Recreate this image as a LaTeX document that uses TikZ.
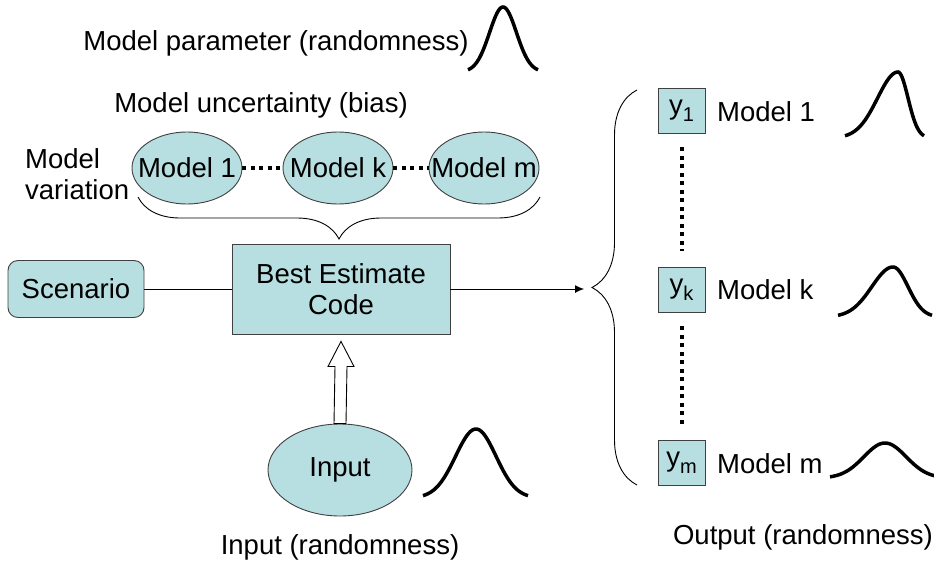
\documentclass[tikz,border=0pt]{standalone}
\usepackage{fontspec}
\setmainfont{Liberation Sans}
\usetikzlibrary{shapes.geometric,calc,decorations.pathreplacing,arrows.meta}
\definecolor{cellfill}{RGB}{183,222,224}
\definecolor{celledge}{RGB}{64,64,64}
\newcommand{\ysub}[1]{y\raisebox{-0.45ex}{\fontsize{20}{20}\selectfont #1}}
\newcommand{\bellcurve}[5]{%
	\draw[bell] plot[domain=#1:#2,samples=30] (\x,{#4-(#4-#5)*exp(-((\x-#2)*(\x-#2))/(2*((#2-#1)/2.6)*((#2-#1)/2.6)))})
		-- plot[domain=#2:#3,samples=30] (\x,{#4-(#4-#5)*exp(-((\x-#2)*(\x-#2))/(2*((#3-#2)/2.6)*((#3-#2)/2.6)))});}

\begin{document}
\begin{tikzpicture}[x=1pt,y=-1pt,
	every node/.style={font=\fontsize{27.5}{31}\selectfont},
	box/.style={draw=celledge, fill=cellfill, line width=0.9pt},
	modelell/.style={ellipse, box, inner sep=0pt, minimum width=110pt, minimum height=72pt},
	ybox/.style={box, inner sep=0pt, minimum width=47pt, minimum height=45pt},
	bell/.style={line width=3.5pt},
	dots/.style={line width=4pt, dash pattern=on 4pt off 4.5pt},
	link/.style={line width=0.9pt},
	brc/.style={decorate, decoration={brace, amplitude=#1}, line width=0.9pt}]
	
		\useasboundingbox (0,0) rectangle (934,567);
		
		\node (param) at (276,43) {Model parameter (randomness)};
		\bellcurve{468}{503}{538}{72}{7}
		\node (bias) at (261,105) {Model uncertainty (bias)};
		\node[align=left, anchor=west, inner sep=0pt] (var) at (25,174) {Model\\variation};
		
		\node[modelell] (m1) at (187,168) {\makebox[0pt]{Model 1}};
		\node[modelell] (mk) at (338,168) {\makebox[0pt]{Model k}};
		\node[modelell] (mm) at (484,168) {\makebox[0pt]{Model m}};
		\draw[dots] (m1) -- (mk);
		\draw[dots] (mk) -- (mm);
		\draw[brc=42] (540,197) -- (138,197);
		
		\node[box, minimum width=218pt, minimum height=90pt, align=center] (code) at (341,289) {Best Estimate\\Code};
		\node[box, rounded corners=10pt, minimum width=136pt, minimum height=57pt] (scen) at (76,289) {Scenario};
		\draw[link] (scen) -- (code);
		
		\node[ellipse, box, inner sep=0pt, minimum width=144pt, minimum height=92pt] (inp) at (340,470) {Input};
		\node (inlbl) at (340,547) {Input (randomness)};
		\bellcurve{423}{476}{528}{498}{429}
		\coordinate (tip) at ($(code.south)+(0,7)$);
		\draw[link, fill=white] ($(inp.north)+(-6,0)$) -- ($(tip)+(-6,25)$) -- ($(tip)+(-13,25)$) -- (tip)
			-- ($(tip)+(13,25)$) -- ($(tip)+(6,25)$) -- ($(inp.north)+(6,0)$) -- cycle;
		
		\coordinate (fan) at (584,289);
		\draw[link, -{Latex[length=9pt,width=8pt]}] (code) -- (fan);
		\draw[brc=45] (637,485) -- (637,90);
		
		\node[ybox] (y1) at (681.5,110.5) {\ysub{1}};
		\node[ybox] (yk) at (681.5,289.5) {\ysub{k}};
		\node[ybox] (ym) at (681.5,462.5) {\ysub{m}};
		\draw[dots, shorten <=14pt, shorten >=16pt] (y1) -- (yk);
		\draw[dots, shorten <=14pt, shorten >=14pt] (yk) -- (ym);
		\node[anchor=west, inner sep=0pt] (l1) at (717,112) {Model 1};
		\node[anchor=west, inner sep=0pt] (lk) at (717,290) {Model k};
		\node[anchor=west, inner sep=0pt] (lm) at (717,464) {Model m};
		\bellcurve{845}{898}{924}{138}{72}
		\bellcurve{838}{893}{932}{317}{267}
		\bellcurve{830}{885}{940}{478}{443}
		\node (outlbl) at (803,537) {Output (randomness)};
	\end{tikzpicture}
\end{document}
